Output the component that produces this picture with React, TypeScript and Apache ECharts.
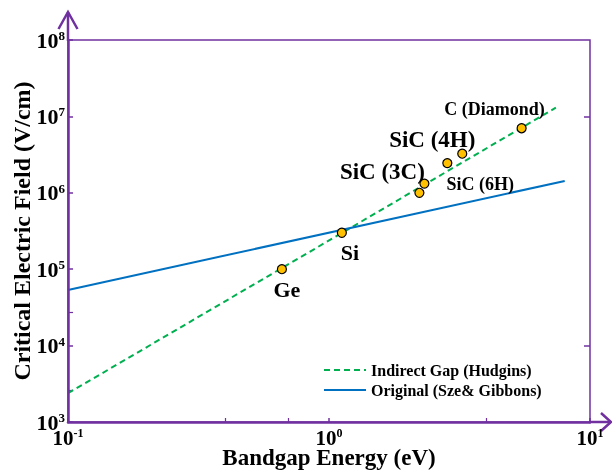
import React, { useEffect, useRef } from "react";
import * as echarts from "echarts";

// Breakdown-field models (bandgap in eV, field in V/cm)
const hudginsEg = [0.1, 7.4];
const hudginsField = [2.38e3, 1.3e7];
const szeEg = [0.1, 8.0];
const szeField = [5.35e4, 1.43e6];

// Semiconductor materials
const materialNames = ["Ge", "Si", "", "SiC (3C)", "SiC (6H)", "SiC (4H)", "C (Diamond)"];
const materialEg = [0.66, 1.12, 2.22, 2.32, 2.84, 3.24, 5.47];
const materialField = [1.0e5, 3.0e5, 1.0e6, 1.32e6, 2.45e6, 3.25e6, 7.0e6];

const seriesNames = ["Indirect Gap (Hudgins)", "Original (Sze& Gibbons)"];

// Extra tick positions
const bottomMinorTicks = [0.4, 0.7, 4];
const leftMinorTicks = [2.6e3, 2.7e4];
const rightTicks = [1e4, 1e7];

// Label placement around each marker
const labelStyle: Record<string, { offset: number[]; size: number }> = {
  Ge: { offset: [5, 20], size: 22 },
  Si: { offset: [8, 20], size: 22 },
  "SiC (3C)": { offset: [-42, -12], size: 23 },
  "SiC (6H)": { offset: [33, 21], size: 18 },
  "SiC (4H)": { offset: [-30, -14], size: 23 },
  "C (Diamond)": { offset: [-27, -19], size: 18 },
};

const PURPLE = "#7030A0";
const FONT = "Liberation Serif";

const powerLabel = (v: number) => {
  const e = Math.round(Math.log10(v));
  return `{b|10}{s|${e}}`;
};

const makeRich = (base: number, sup: number) => ({
  b: { fontSize: base, fontWeight: "bold", color: "#000", fontFamily: FONT, lineHeight: base },
  s: { fontSize: sup, fontWeight: "bold", color: "#000", fontFamily: FONT, verticalAlign: "top", lineHeight: sup },
});

const hiddenAxisParts = {
  axisLine: { show: false },
  axisLabel: { show: false },
  splitLine: { show: false },
};

export default function App() {
  const ref = useRef<HTMLDivElement>(null);

  useEffect(() => {
    if (!ref.current) return;
    const chart = echarts.init(ref.current, undefined, { renderer: "svg" });

    const points = materialEg.map((eg, i) => {
      const name = materialNames[i];
      const st = labelStyle[name];
      return {
        name,
        value: [eg, materialField[i]],
        label: st
          ? { show: true, offset: st.offset, fontSize: st.size }
          : { show: false },
      };
    });

    chart.setOption({
      animation: false,
      textStyle: { fontFamily: FONT },
      grid: {
        left: 68,
        right: 22,
        top: 40,
        bottom: 50,
        show: true,
        borderColor: PURPLE,
        borderWidth: 1.5,
        containLabel: false,
        outerBoundsMode: "none",
      },
      legend: {
        data: seriesNames,
        orient: "vertical",
        left: 318,
        top: 357,
        itemWidth: 42,
        itemHeight: 12,
        itemGap: 4,
        itemStyle: { opacity: 0 },
        textStyle: { fontSize: 16, fontWeight: "bold", color: "#000", fontFamily: FONT },
      },
      xAxis: [
        {
          type: "log",
          logBase: 10,
          min: 0.1,
          max: 10,
          name: "Bandgap Energy (eV)",
          nameLocation: "middle",
          nameGap: 24,
          nameMoveOverlap: false,
          nameTextStyle: { fontSize: 23, fontWeight: "bold", color: "#000", fontFamily: FONT },
          axisLine: { lineStyle: { color: PURPLE, width: 2.5 } },
          axisTick: { inside: true, length: 4, lineStyle: { color: PURPLE, width: 1.5 } },
          axisLabel: { formatter: powerLabel, rich: makeRich(21, 12), margin: 5 },
          splitLine: { show: false },
          z: 3,
        },
        {
          type: "log",
          logBase: 10,
          min: 0.1,
          max: 10,
          position: "bottom",
          ...hiddenAxisParts,
          axisTick: {
            inside: true,
            length: 4,
            customValues: bottomMinorTicks,
            lineStyle: { color: PURPLE, width: 1.2 },
          },
        },
      ],
      yAxis: [
        {
          type: "log",
          logBase: 10,
          min: 1e3,
          max: 1e8,
          name: "Critical Electric Field (V/cm)",
          nameLocation: "middle",
          nameGap: 34,
          nameMoveOverlap: false,
          nameTextStyle: { fontSize: 24, fontWeight: "bold", color: "#000", fontFamily: FONT },
          axisLine: { lineStyle: { color: PURPLE, width: 2.5 } },
          axisTick: { inside: true, length: 5, lineStyle: { color: PURPLE, width: 1.5 } },
          axisLabel: { formatter: powerLabel, rich: makeRich(22, 13), margin: 3 },
          splitLine: { show: false },
          z: 3,
        },
        {
          type: "log",
          logBase: 10,
          min: 1e3,
          max: 1e8,
          position: "left",
          ...hiddenAxisParts,
          axisTick: {
            inside: true,
            length: 5,
            customValues: leftMinorTicks,
            lineStyle: { color: PURPLE, width: 1.2 },
          },
        },
        {
          type: "log",
          logBase: 10,
          min: 1e3,
          max: 1e8,
          position: "right",
          ...hiddenAxisParts,
          axisTick: {
            inside: true,
            length: 6,
            customValues: rightTicks,
            lineStyle: { color: PURPLE, width: 1.5 },
          },
        },
      ],
      series: [
        {
          name: seriesNames[0],
          type: "line",
          symbol: "none",
          data: hudginsEg.map((x, i) => [x, hudginsField[i]]),
          lineStyle: { color: "#00B050", width: 2, type: [6, 4] },
          itemStyle: { color: "#00B050" },
          z: 2,
        },
        {
          name: seriesNames[1],
          type: "line",
          symbol: "none",
          data: szeEg.map((x, i) => [x, szeField[i]]),
          lineStyle: { color: "#0070C0", width: 2 },
          itemStyle: { color: "#0070C0" },
          z: 2,
        },
        {
          name: "Materials",
          type: "scatter",
          symbol: "circle",
          symbolSize: 9,
          itemStyle: { color: "#FFC000", borderColor: "#000", borderWidth: 1.2, opacity: 1 },
          label: {
            show: true,
            position: "inside",
            formatter: "{b}",
            color: "#000",
            fontWeight: "bold",
            fontFamily: FONT,
            textBorderWidth: 0,
            textBorderColor: "transparent",
          },
          data: points,
          z: 5,
        },
      ],
      graphic: [
        // arrow heads extending the axes
        { type: "line", shape: { x1: 68, y1: 41, x2: 68, y2: 12 }, style: { stroke: PURPLE, lineWidth: 2.5 } },
        {
          type: "polyline",
          shape: { points: [[58.5, 29], [68, 12], [77.5, 29]] },
          style: { stroke: PURPLE, lineWidth: 2.5, fill: null },
        },
        { type: "line", shape: { x1: 589, y1: 422, x2: 611, y2: 422 }, style: { stroke: PURPLE, lineWidth: 2.5 } },
        {
          type: "polyline",
          shape: { points: [[601, 413], [611, 422], [601, 431]] },
          style: { stroke: PURPLE, lineWidth: 2.5, fill: null },
        },
      ],
    });

    return () => chart.dispose();
  }, []);

  return (
    <div
      ref={ref}
      style={{ position: "fixed", left: 0, top: 0, width: 612, height: 472 }}
    />
  );
}
